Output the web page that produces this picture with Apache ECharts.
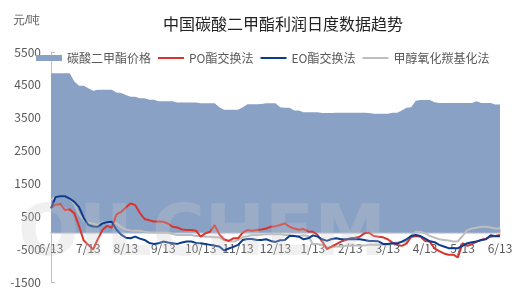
<!DOCTYPE html>
<html><head><meta charset="utf-8">
<script src="https://cdn.jsdelivr.net/npm/echarts@6/dist/echarts.min.js"></script>
<style>html,body{margin:0;padding:0;background:#fff}#c{width:520px;height:291px}</style>
</head><body><div id="c"></div>
<script>
const monthLabels = ['6/13','7/13','8/13','9/13','10/13','11/13','12/13','1/13','2/13','3/13','4/13','5/13','6/13'];
const stepsPerMonth = 8;
const dmcPrice = [4850,4850,4850,4850,4850,4600,4470,4470,4400,4320,4350,4350,4350,4350,4270,4250,4190,4140,4140,4090,4090,4050,4050,4000,4000,4000,4000,3960,3960,3960,3960,3960,3940,3940,3940,3940,3820,3740,3740,3740,3740,3820,3910,3910,3910,3920,3940,3940,3940,3820,3800,3800,3720,3720,3670,3670,3670,3670,3640,3640,3640,3650,3650,3650,3650,3650,3650,3650,3640,3620,3620,3620,3620,3650,3650,3720,3800,3820,4020,4040,4040,4040,3970,3950,3950,3950,3950,3950,3950,3950,3950,4000,3950,3950,3950,3900,3900];
const poProfit = [760,860,870,690,710,590,200,-240,-370,-510,-200,80,210,150,560,630,770,890,840,600,420,380,340,340,330,280,180,160,100,80,80,60,-120,-20,30,230,-50,-200,-250,-170,-170,0,80,60,80,100,130,180,200,235,285,180,130,90,110,40,30,-70,-270,-500,-420,-350,-270,-220,-170,-150,-120,-20,0,-100,-120,-140,-200,-300,-370,-400,-330,-130,-100,-120,-250,-270,-480,-560,-630,-670,-670,-750,-320,-400,-350,-270,-220,-180,-120,-100,-70];
const eoProfit = [740,1090,1110,1110,1040,940,780,450,235,190,180,285,320,335,90,-60,-150,-170,-120,-180,-220,-310,-340,-320,-270,-300,-320,-340,-300,-270,-270,-310,-320,-340,-370,-400,-420,-540,-480,-430,-370,-220,-190,-190,-220,-220,-200,-250,-280,-230,-220,-100,-100,-120,-200,-170,-80,-120,-200,-250,-190,-170,-200,-200,-200,-200,-200,-220,-250,-250,-260,-340,-340,-320,-330,-270,-200,-100,-70,-100,-180,-260,-290,-370,-420,-470,-470,-470,-400,-320,-290,-270,-220,-200,-80,-110,-110];
const methanolProfit = [1000,1100,1100,1100,1040,880,560,380,300,280,235,320,285,285,285,170,100,70,60,60,30,15,10,5,0,0,-40,-70,-70,-70,-70,-100,-100,-120,-120,-140,-140,-230,-260,-270,-220,-140,-110,-70,-70,-60,-50,-50,-50,-50,-70,-70,-90,-100,-80,-100,-340,-340,-380,-440,-440,-420,-420,-400,-400,-390,-390,-390,-370,-370,-370,-370,-360,-320,-300,-280,-270,-80,30,30,-20,-100,-150,-200,-220,-240,-270,-260,-100,80,130,150,180,180,160,130,130];
const seriesNames = ['碳酸二甲酯价格','PO酯交换法','EO酯交换法','甲醇氧化羰基化法'];
const yMin = -1500, yMax = 5500, yStep = 1000;

const categories = dmcPrice.map((_, i) => String(i));
const W = 520, H = 291, gridTop = 52, gridBottom = 9;
const plotH = H - gridTop - gridBottom;
// move the category axis (line + labels) up to the zero level of the value axis
const zeroOffset = -plotH * (0 - yMin) / (yMax - yMin);
const chart = echarts.init(document.getElementById('c'), null, {renderer:'canvas'});
const labelColor = '#595959';
chart.setOption({
  animation: false,
  textStyle: {fontFamily: '"Noto Sans CJK SC", sans-serif'},
  title: {text: '中国碳酸二甲酯利润日度数据趋势', left: 278, textAlign: 'center', top: 11,
    textStyle: {fontSize: 16, fontWeight: 'normal', color: '#222'}},
  graphic: [
    {type: 'text', left: 13, top: 15, style: {text: '元/吨', fontSize: 12, fill: labelColor, font: '12px "Noto Sans CJK SC"'}},
    {type: 'text', left: 18, top: 200, z: 100, silent: true,
     style: {text: 'OILCHEM', font: 'bold 72px "DejaVu Sans", sans-serif', fill: 'rgba(200,200,200,0.28)'}}
  ],
  legend: [
    {left: 36, top: 52, padding: 0, itemWidth: 26, itemHeight: 6,
     textStyle: {fontSize: 12, color: labelColor},
     data: [{name: seriesNames[0], icon: 'rect'}]},
    {left: 158, top: 52, padding: 0, itemGap: 7, itemWidth: 26, itemHeight: 2,
     textStyle: {fontSize: 12, color: labelColor},
     data: [{name: seriesNames[1], icon: 'rect'}, {name: seriesNames[2], icon: 'rect'}, {name: seriesNames[3], icon: 'rect'}]}
  ],
  grid: {left: 51, right: 20, top: gridTop, bottom: gridBottom, containLabel: false, outerBoundsMode: 'none'},
  xAxis: {
    type: 'category', data: categories, boundaryGap: false, position: 'bottom', offset: zeroOffset,
    axisLine: {onZero: false, lineStyle: {color: '#d9d9d9', width: 2}},
    axisTick: {show: true, inside: true, length: 4, interval: stepsPerMonth - 1, lineStyle: {color: '#d9d9d9'}},
    axisLabel: {show: true, interval: stepsPerMonth - 1, margin: 10, fontSize: 12, color: labelColor,
      formatter: (v, idx) => (idx % stepsPerMonth === 0 ? monthLabels[idx / stepsPerMonth] : '')},
    splitLine: {show: false}
  },
  yAxis: {
    type: 'value', min: yMin, max: yMax, interval: yStep,
    axisLine: {show: true, onZero: false, lineStyle: {color: '#bfbfbf'}},
    axisTick: {show: true, inside: true, length: 4, lineStyle: {color: '#bfbfbf'}},
    axisLabel: {fontSize: 12, color: labelColor, margin: 10, formatter: v => String(v)},
    splitLine: {show: false}
  },
  series: [
    {name: seriesNames[0], type: 'line', data: dmcPrice, symbol: 'none', color: '#8aa1c6',
     lineStyle: {width: 0}, areaStyle: {color: '#8aa1c6', opacity: 1, origin: 0}, z: 1},
    {name: seriesNames[1], type: 'line', data: poProfit, symbol: 'none', color: '#d9342b', lineStyle: {width: 2}, z: 3},
    {name: seriesNames[2], type: 'line', data: eoProfit, symbol: 'none', color: '#0d3b8c', lineStyle: {width: 2}, z: 4},
    {name: seriesNames[3], type: 'line', data: methanolProfit, symbol: 'none', color: '#bdbdbd', lineStyle: {width: 2}, z: 2}
  ]
});
</script></body></html>
